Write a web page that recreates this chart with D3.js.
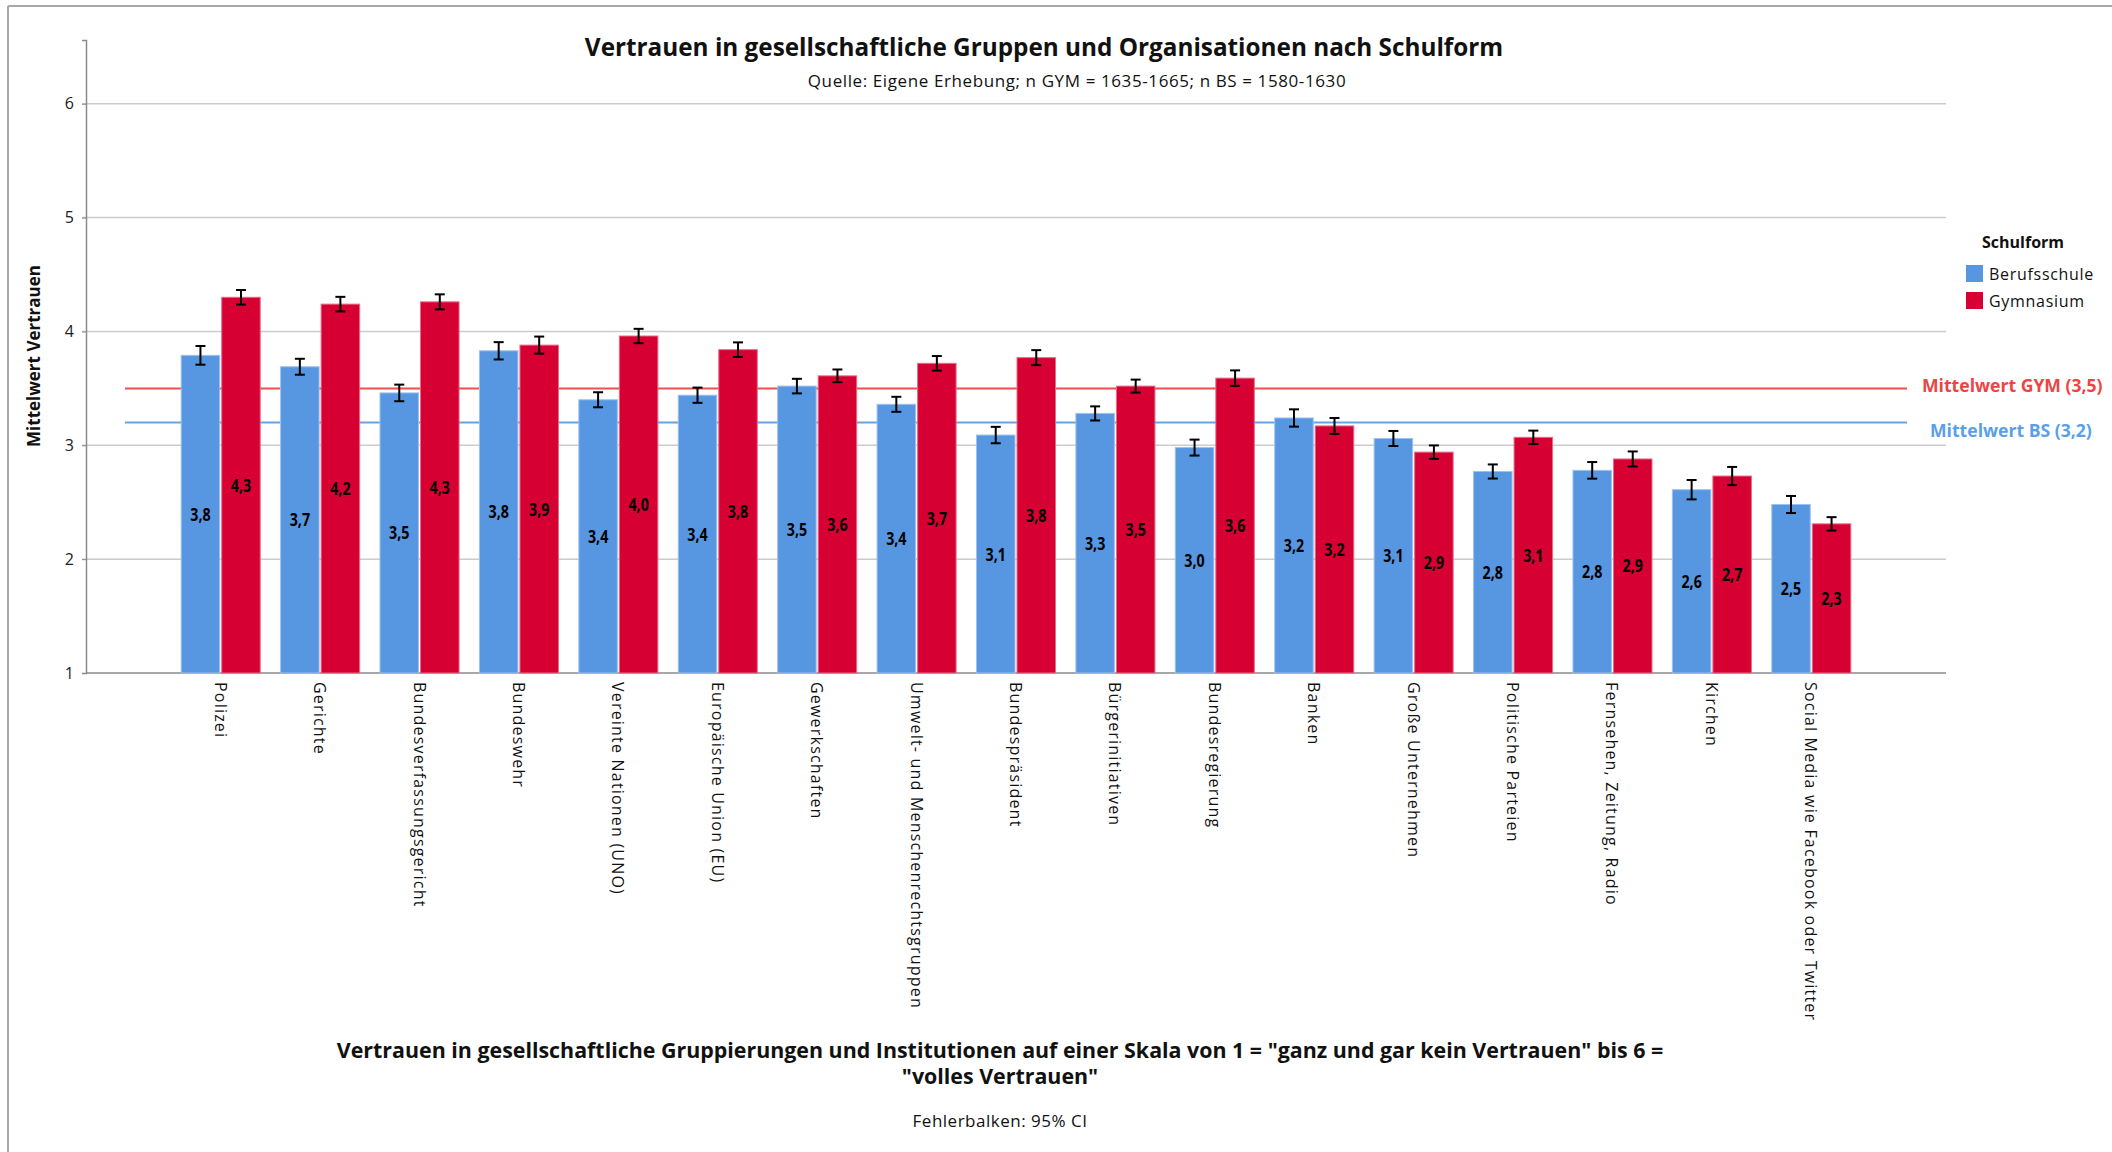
<!DOCTYPE html>
<html>
<head>
<meta charset="utf-8">
<script src="https://cdn.jsdelivr.net/npm/d3@7"></script>
<style>
  body { margin: 0; background: #fff; }
  text { font-family: "Open Sans", "Noto Sans", sans-serif; }
</style>
</head>
<body>
<svg id="chart" width="2112" height="1152"></svg>
<script>
// categories and values
const categories = ["Polizei", "Gerichte", "Bundesverfassungsgericht", "Bundeswehr",
  "Vereinte Nationen (UNO)", "Europäische Union (EU)", "Gewerkschaften",
  "Umwelt- und Menschenrechtsgruppen", "Bundespräsident", "Bürgerinitiativen",
  "Bundesregierung", "Banken", "Große Unternehmen", "Politische Parteien",
  "Fernsehen, Zeitung, Radio", "Kirchen", "Social Media wie Facebook oder Twitter"];

const seriesNames = ["Berufsschule", "Gymnasium"];

const meanBS  = [3.79, 3.69, 3.46, 3.83, 3.40, 3.44, 3.52, 3.36, 3.09, 3.28, 2.98, 3.24, 3.06, 2.77, 2.78, 2.61, 2.48];
const meanGYM = [4.30, 4.24, 4.26, 3.88, 3.96, 3.84, 3.61, 3.72, 3.77, 3.52, 3.59, 3.17, 2.94, 3.07, 2.88, 2.73, 2.31];
// half width of 95% CI
const ciBS  = [0.082, 0.070, 0.073, 0.076, 0.066, 0.067, 0.064, 0.066, 0.072, 0.062, 0.070, 0.076, 0.066, 0.062, 0.073, 0.085, 0.075];
const ciGYM = [0.064, 0.064, 0.066, 0.075, 0.063, 0.064, 0.056, 0.064, 0.066, 0.057, 0.068, 0.070, 0.059, 0.059, 0.066, 0.080, 0.059];

const overallMeans = [
  { name: "Mittelwert GYM (3,5)", value: 3.5, color: "#f04e4e", text: "#ee4444" },
  { name: "Mittelwert BS (3,2)", value: 3.2, color: "#64a4ea", text: "#5a9fe8" }
];
const yTicks = [1, 2, 3, 4, 5, 6];

const colors = { "Berufsschule": "#5796e1", "Gymnasium": "#d60032" };
const strokes = { "Berufsschule": "#9cc1ef", "Gymnasium": "#e86a85" };

const svg = d3.select("#chart");

const x0 = d3.scaleBand().domain(categories).range([171, 1861]).paddingInner(0.205).paddingOuter(0.1025);
const x1 = d3.scaleBand().domain(seriesNames).range([0, x0.bandwidth()]).paddingInner(0.05);
const y = d3.scaleLinear().domain([1, 6.56]).range([673, 40]);

const fmt = v => d3.format(".1f")(v).replace(".", ",");

// frame
svg.append("line").attr("x1", 8).attr("x2", 2112).attr("y1", 6).attr("y2", 6)
  .attr("stroke", "#aaa6aa").attr("stroke-width", 2);
svg.append("line").attr("x1", 8).attr("x2", 8).attr("y1", 6).attr("y2", 1152)
  .attr("stroke", "#aaa6aa").attr("stroke-width", 2);

// grid
svg.append("g").selectAll("line")
  .data(yTicks.filter(d => d > 1))
  .enter().append("line")
  .attr("x1", 82).attr("x2", 1946)
  .attr("y1", d => y(d)).attr("y2", d => y(d))
  .attr("stroke", "#cbcbcb").attr("stroke-width", 1.5);

// y axis
const yAxis = svg.append("g")
  .attr("transform", "translate(86,0)")
  .call(d3.axisLeft(y).tickValues(yTicks).tickSize(4).tickPadding(8).tickFormat(d3.format("d")));
yAxis.select(".domain").attr("stroke", "#8a8a8a").attr("stroke-width", 1.5);
yAxis.selectAll(".tick line").attr("stroke", "#8a8a8a");
yAxis.selectAll(".tick text").attr("font-size", 16).attr("fill", "#222")
  .style("font-family", "'Open Sans', sans-serif");

// baseline
svg.append("line").attr("x1", 86).attr("x2", 1946).attr("y1", y(1)).attr("y2", y(1))
  .attr("stroke", "#8a8a8a").attr("stroke-width", 1.5);

// mean lines
svg.append("g").selectAll("line")
  .data(overallMeans)
  .enter().append("line")
  .attr("x1", 125).attr("x2", 1907)
  .attr("y1", d => y(d.value)).attr("y2", d => y(d.value))
  .attr("stroke", d => d.color).attr("stroke-width", 2);

const rows = categories.map((c, i) => ({
  cat: c,
  vals: [
    { s: "Berufsschule", v: meanBS[i], ci: ciBS[i] },
    { s: "Gymnasium", v: meanGYM[i], ci: ciGYM[i] }
  ]
}));

const groups = svg.append("g").selectAll("g")
  .data(rows)
  .enter().append("g")
  .attr("transform", d => `translate(${x0(d.cat)},0)`);

const bars = groups.selectAll("g.bar")
  .data(d => d.vals)
  .enter().append("g").attr("class", "bar");

bars.append("rect")
  .attr("x", d => x1(d.s))
  .attr("width", x1.bandwidth())
  .attr("y", d => y(d.v))
  .attr("height", d => y(1) - y(d.v))
  .attr("fill", d => colors[d.s])
  .attr("stroke", d => strokes[d.s])
  .attr("stroke-width", 1);

// value labels, squeezed a bit like the narrow original font
bars.append("text")
  .attr("transform", d => `translate(${x1(d.s) + x1.bandwidth() / 2},${(y(d.v) + y(1)) / 2}) scale(0.84,1)`)
  .attr("text-anchor", "middle")
  .attr("dominant-baseline", "central")
  .attr("font-size", 17)
  .attr("font-weight", "bold")
  .attr("fill", "#000")
  .text(d => fmt(d.v));

// error bars
const eb = bars.append("g").attr("stroke", "#000").attr("stroke-width", 2);
eb.append("line")
  .attr("x1", d => x1(d.s) + x1.bandwidth() / 2).attr("x2", d => x1(d.s) + x1.bandwidth() / 2)
  .attr("y1", d => y(d.v + d.ci)).attr("y2", d => y(d.v - d.ci));
eb.append("line")
  .attr("x1", d => x1(d.s) + x1.bandwidth() / 2 - 5).attr("x2", d => x1(d.s) + x1.bandwidth() / 2 + 5)
  .attr("y1", d => y(d.v + d.ci)).attr("y2", d => y(d.v + d.ci));
eb.append("line")
  .attr("x1", d => x1(d.s) + x1.bandwidth() / 2 - 5).attr("x2", d => x1(d.s) + x1.bandwidth() / 2 + 5)
  .attr("y1", d => y(d.v - d.ci)).attr("y2", d => y(d.v - d.ci));

// x labels
svg.append("g").selectAll("text")
  .data(categories)
  .enter().append("text")
  .attr("transform", d => `translate(${x0(d) + x0.bandwidth() / 2},682) rotate(90)`)
  .attr("text-anchor", "start")
  .attr("dominant-baseline", "central")
  .attr("font-size", 16)
  .attr("letter-spacing", 1.2)
  .attr("fill", "#111")
  .text(d => d);

// mean labels
svg.append("g").selectAll("text")
  .data(overallMeans)
  .enter().append("text")
  .attr("x", (d, i) => i === 0 ? 1922 : 1930)
  .attr("y", d => y(d.value) + (d.value > 3.3 ? -3 : 7))
  .attr("dominant-baseline", "central")
  .attr("font-size", 17.6)
  .attr("font-weight", "bold")
  .attr("fill", d => d.text)
  .text(d => d.name);

// legend
const legend = svg.append("g");
legend.append("text").attr("x", 2023).attr("y", 248).attr("text-anchor", "middle")
  .attr("font-size", 16).attr("font-weight", "bold").attr("fill", "#111").text("Schulform");
const li = legend.selectAll("g.item").data(seriesNames).enter().append("g").attr("class", "item")
  .attr("transform", (d, i) => `translate(1966,${265 + i * 27})`);
li.append("rect").attr("width", 17).attr("height", 17).attr("fill", d => colors[d]);
li.append("text").attr("x", 23).attr("y", 9).attr("dominant-baseline", "central")
  .attr("font-size", 16).attr("letter-spacing", 0.7).attr("fill", "#111").text(d => d);

// titles
svg.append("text").attr("x", 1044).attr("y", 56).attr("text-anchor", "middle")
  .attr("font-size", 24.3).attr("font-weight", "bold").attr("fill", "#111")
  .text("Vertrauen in gesellschaftliche Gruppen und Organisationen nach Schulform");
svg.append("text").attr("x", 1077).attr("y", 87).attr("text-anchor", "middle")
  .attr("font-size", 17).attr("letter-spacing", 0.6).attr("fill", "#111")
  .text("Quelle: Eigene Erhebung; n GYM = 1635-1665; n BS = 1580-1630");

svg.append("text")
  .attr("transform", "translate(40,356) rotate(-90)")
  .attr("text-anchor", "middle")
  .attr("font-size", 17).attr("font-weight", "bold").attr("fill", "#111")
  .text("Mittelwert Vertrauen");

svg.append("text").attr("x", 1000).attr("y", 1058).attr("text-anchor", "middle")
  .attr("font-size", 21.4).attr("font-weight", "bold").attr("fill", "#111")
  .text("Vertrauen in gesellschaftliche Gruppierungen und Institutionen auf einer Skala von 1 = \"ganz und gar kein Vertrauen\" bis 6 =");
svg.append("text").attr("x", 1000).attr("y", 1084).attr("text-anchor", "middle")
  .attr("font-size", 21.4).attr("font-weight", "bold").attr("fill", "#111")
  .text("\"volles Vertrauen\"");
svg.append("text").attr("x", 1000).attr("y", 1127).attr("text-anchor", "middle")
  .attr("font-size", 17).attr("letter-spacing", 0.5).attr("fill", "#111")
  .text("Fehlerbalken: 95% CI");
</script>
</body>
</html>
